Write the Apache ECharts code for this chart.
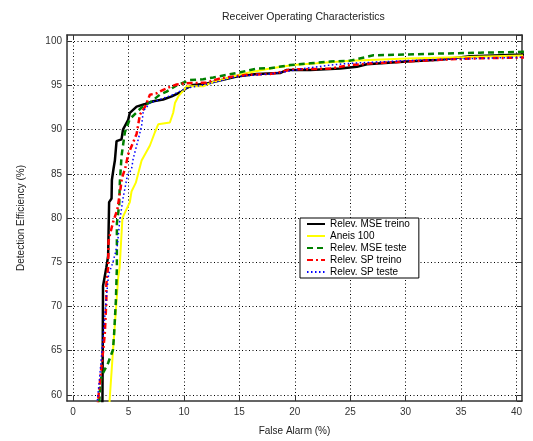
<!DOCTYPE html>
<html>
<head>
<meta charset="utf-8">
<script src="https://cdn.jsdelivr.net/npm/echarts@6/dist/echarts.min.js"></script>
<style>html,body{margin:0;padding:0;background:#fff}#c{width:533px;height:441px}</style>
</head>
<body>
<div id="c"></div>
<script>
// ---- data: [False Alarm (%), Detection Efficiency (%)] ----
const seriesNames = ['Relev. MSE treino', 'Aneis 100', 'Relev. MSE teste', 'Relev. SP treino', 'Relev. SP teste'];

const mseTreino = [
  [2.6,58],[2.65,59.5],[2.7,72.3],[3.0,74.4],[3.16,75.7],[3.25,81.8],[3.47,82.2],[3.5,84.3],
  [3.65,85.6],[3.77,86.5],[3.92,88.7],[4.37,88.9],[4.5,90],[4.97,91.1],[5.12,91.9],[5.73,92.6],
  [6.5,92.9],[7.23,93.2],[8.13,93.4],[8.9,93.75],[9.8,94.3],[10.24,94.7],[10.84,95.05],[12.0,95.2],
  [12.35,95.3],[14.76,96.0],[16.57,96.3],[18.67,96.4],[19.28,96.75],[21.4,96.75],[24.1,96.9],
  [25.6,97.1],[26.5,97.4],[30.1,97.7],[33.1,97.9],[35.8,98.3],[41,98.5]
];
const aneis100 = [
  [3.25,58],[3.3,59.5],[3.6,65],[3.92,70.6],[4.07,73.3],[4.2,74.4],[4.45,80],[5.12,81.8],[5.27,83],
  [5.66,84],[6.18,86.5],[6.93,88.2],[7.38,89.7],[7.68,90.6],[8.73,90.8],[9.03,91.9],[9.19,93],
  [9.49,93.75],[9.94,94.4],[10.24,94.9],[11.74,94.9],[12.65,95.4],[14.45,96.0],[15.66,96.4],
  [17.77,96.9],[19.87,97.3],[22.0,97.5],[25,97.8],[30.1,98.05],[35.5,98.2],[41,98.4]
];
const mseTeste = [
  [2.3,58],[2.45,61],[2.56,62.1],[3.16,63.6],[3.6,65.1],[3.7,66.9],[3.86,70.7],[3.95,74.4],
  [3.95,79.4],[4.16,81.5],[4.22,84.1],[4.3,85.6],[4.37,87],[4.67,89.7],[5.12,91.2],[6.18,92.5],
  [7.08,93.2],[7.83,93.95],[8.44,94.3],[9.34,95.0],[10.54,95.6],[11.74,95.7],[12.65,95.9],
  [14.76,96.4],[16.57,96.9],[17.77,96.95],[19.6,97.3],[21.4,97.5],[23.2,97.7],[25,97.8],
  [27.1,98.4],[30.1,98.5],[33.1,98.6],[36.7,98.7],[41,98.8]
];
const spTreino = [
  [2.2,58],[2.26,59.5],[2.41,61.3],[2.56,63.2],[2.71,65],[2.86,66.9],[3.0,70.6],[3.0,72.5],
  [3.16,74.4],[3.2,77.4],[3.3,78],[3.6,79.5],[4.0,81],[4.3,83.5],[4.4,84.5],[4.7,85.6],[4.97,87.2],
  [5.73,89.5],[6.03,91.7],[6.5,92.6],[6.93,93.95],[7.53,94.1],[8.13,94.5],[8.9,94.9],[9.34,95.1],
  [10.24,95.25],[12.0,95.3],[13.25,95.8],[14.76,96.06],[15.66,96.2],[17.77,96.3],[18.97,96.56],
  [19.6,96.8],[23.2,96.9],[25,97.3],[27.1,97.5],[30.1,97.7],[33.1,97.9],[36.1,98.05],[41,98.16]
];
const spTeste = [
  [2.1,58],[2.2,59.5],[2.4,62],[2.6,65],[2.8,68],[3.0,71],[3.2,73.6],[3.6,75],[4.0,77],[4.2,79.6],
  [4.5,82.2],[4.9,84.8],[5.27,85.5],[5.42,86.7],[5.88,88.9],[6.18,90.4],[6.33,92.1],[6.93,93],
  [7.83,93.4],[9.03,93.95],[10.24,94.7],[12,95.1],[14.76,96],[17.77,96.3],[19.0,96.5],[20.8,96.9],
  [23.2,97.3],[25,97.5],[30.1,97.8],[35,98.0],[41,98.2]
];

const xRange = [-0.55, 40.5];
const yRange = [59.3, 100.7];

const FONT = '"Liberation Sans", Arial, sans-serif';
const chart = echarts.init(document.getElementById('c'), null, {renderer: 'canvas'});

const gridDot = {show: true, lineStyle: {color: '#000', width: 1, type: [1, 2.5]}, showMinLine: false, showMaxLine: false};
const boxLine = {show: true, onZero: false, lineStyle: {color: '#333', width: 1.5}};
const tickIn = {show: true, inside: true, length: 5, lineStyle: {color: '#333', width: 1}};
const lbl = {color: '#333', fontSize: 10, fontFamily: FONT, showMinLabel: false, showMaxLabel: false};

function mk(name, data, color, width, type, z) {
  return {
    name: name, type: 'line', data: data, symbol: 'none', showSymbol: false,
    xAxisIndex: 0, yAxisIndex: 0, clip: true, z: z, animation: false,
    lineStyle: {color: color, width: width, type: type, cap: 'butt'},
    itemStyle: {color: color}
  };
}

chart.setOption({
  backgroundColor: '#fff',
  animation: false,
  title: {
    text: 'Receiver Operating Characteristics', left: 222, top: 12, padding: 0,
    textStyle: {fontSize: 10.5, fontWeight: 'normal', color: '#222', fontFamily: FONT}
  },
  grid: {left: 67, right: 11, top: 35, bottom: 36, containLabel: false},
  legend: {
    data: seriesNames, orient: 'vertical', left: 300, top: 218,
    padding: [1, 9, 1, 6], itemGap: 2, itemWidth: 18, itemHeight: 8,
    borderColor: '#000', borderWidth: 1, backgroundColor: '#fff',
    textStyle: {fontSize: 10, color: '#000', fontFamily: FONT},
    itemStyle: {opacity: 0, borderWidth: 0}
  },
  xAxis: [
    {type: 'value', min: xRange[0], max: xRange[1], splitNumber: 8, position: 'bottom',
     axisLine: boxLine, axisTick: tickIn, splitLine: gridDot, axisLabel: Object.assign({margin: 6}, lbl),
     name: 'False Alarm (%)', nameLocation: 'middle', nameGap: 25,
     nameTextStyle: {fontSize: 10, color: '#222', fontFamily: FONT}},
    {type: 'value', min: xRange[0], max: xRange[1], splitNumber: 8, position: 'top',
     axisLine: boxLine, axisTick: tickIn, splitLine: {show: false}, axisLabel: {show: false}}
  ],
  yAxis: [
    {type: 'value', min: yRange[0], max: yRange[1], splitNumber: 8, position: 'left',
     axisLine: boxLine, axisTick: tickIn, splitLine: gridDot, axisLabel: Object.assign({margin: 5}, lbl),
     name: 'Detection Efficiency (%)', nameLocation: 'middle', nameGap: 41, nameRotate: 90,
     nameTextStyle: {fontSize: 10, color: '#222', fontFamily: FONT}},
    {type: 'value', min: yRange[0], max: yRange[1], splitNumber: 8, position: 'right',
     axisLine: boxLine, axisTick: tickIn, splitLine: {show: false}, axisLabel: {show: false}}
  ],
  series: [
    mk(seriesNames[0], mseTreino, '#000000', 2.5, 'solid', 2),
    mk(seriesNames[1], aneis100, '#ffff00', 2, 'solid', 3),
    mk(seriesNames[2], mseTeste, '#008000', 2.5, [6, 4], 4),
    mk(seriesNames[3], spTreino, '#ff0000', 2.5, [6, 3, 2, 3], 5),
    mk(seriesNames[4], spTeste, '#0000ff', 1.5, [1.5, 2.5], 6)
  ]
});
</script>
</body>
</html>
